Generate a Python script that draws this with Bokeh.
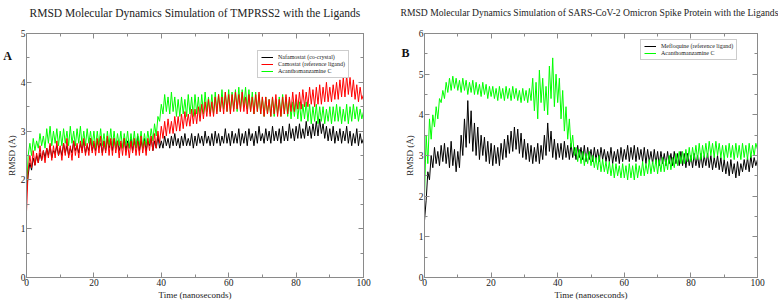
from bokeh.plotting import figure
from bokeh.layouts import row
from bokeh.models import (LinearAxis, Range1d, Legend, LegendItem, Label,
                          SingleIntervalTicker)
from bokeh.embed import file_html
from bokeh.resources import INLINE

# ---------------- data (0.5 ns steps) ----------------
a_nafamostat = [
    1.75, 2.1, 2.35, 2.2, 2.45, 2.3, 2.5, 2.35, 2.55, 2.4, 2.6,
    2.45, 2.65, 2.5, 2.7, 2.45, 2.6, 2.55, 2.7, 2.5, 2.65,
    2.5, 2.75, 2.55, 2.7, 2.5, 2.65, 2.55, 2.8, 2.6, 2.7,
    2.55, 2.75, 2.6, 2.8, 2.55, 2.7, 2.6, 2.85, 2.6, 2.75,
    2.6, 2.8, 2.65, 2.75, 2.55, 2.8, 2.6, 2.85, 2.65, 2.8,
    2.6, 2.85, 2.65, 2.8, 2.6, 2.75, 2.65, 2.85, 2.6, 2.8,
    2.65, 2.85, 2.6, 2.8, 2.65, 2.9, 2.6, 2.8, 2.65, 2.85,
    2.6, 2.8, 2.7, 2.85, 2.6, 2.8, 2.65, 2.9, 2.65, 2.8,
    2.65, 2.9, 2.7, 2.85, 2.65, 2.9, 2.7, 2.95, 2.7, 2.85,
    2.65, 2.9, 2.7, 2.95, 2.7, 2.85, 2.7, 2.95, 2.65, 2.9,
    2.7, 2.95, 2.75, 2.9, 2.7, 3.0, 2.75, 2.9, 2.7, 2.95,
    2.7, 3.0, 2.75, 2.95, 2.7, 2.9, 2.75, 3.05, 2.75, 2.95,
    2.7, 3.0, 2.75, 2.95, 2.75, 3.05, 2.7, 2.95, 2.75, 3.0,
    2.7, 3.05, 2.8, 2.95, 2.7, 3.0, 2.75, 3.1, 2.8, 2.95,
    2.75, 3.05, 2.8, 3.0, 2.75, 3.1, 2.8, 3.0, 2.8, 3.05,
    2.75, 3.1, 2.8, 3.0, 2.8, 3.15, 2.85, 3.05, 2.8, 3.1,
    2.85, 3.15, 2.85, 3.05, 2.85, 3.2, 2.9, 3.1, 2.85, 3.15,
    2.9, 3.2, 2.9, 3.25, 2.95, 3.15, 2.85, 3.1, 2.8, 3.05,
    2.8, 3.1, 2.75, 3.0, 2.8, 3.05, 2.75, 3.0, 2.8, 3.1,
    2.75, 3.0, 2.7, 2.95, 2.75, 3.05, 2.7, 2.95, 2.75, 2.85]

a_camostat = [
    1.35, 2.2, 2.5, 2.25, 2.6, 2.3, 2.55, 2.35, 2.7, 2.4, 2.6,
    2.35, 2.65, 2.45, 2.75, 2.4, 2.7, 2.45, 2.8, 2.5, 2.7,
    2.4, 2.75, 2.5, 2.85, 2.45, 2.7, 2.4, 2.8, 2.5, 2.75,
    2.45, 2.8, 2.55, 2.85, 2.5, 2.75, 2.5, 2.85, 2.55, 2.8,
    2.5, 2.85, 2.55, 2.9, 2.5, 2.8, 2.55, 2.9, 2.5, 2.85,
    2.5, 2.85, 2.55, 2.8, 2.45, 2.8, 2.5, 2.85, 2.5, 2.75,
    2.45, 2.8, 2.55, 2.85, 2.5, 2.8, 2.5, 2.9, 2.55, 2.8,
    2.5, 2.85, 2.6, 2.9, 2.6, 2.95, 2.65, 3.0, 2.75, 3.1,
    2.85, 3.2, 2.9, 3.25, 2.95, 3.2, 2.95, 3.3, 3.0, 3.3,
    3.0, 3.35, 3.05, 3.4, 3.1, 3.35, 3.1, 3.45, 3.15, 3.45,
    3.15, 3.5, 3.2, 3.55, 3.25, 3.6, 3.3, 3.65, 3.3, 3.6,
    3.3, 3.7, 3.35, 3.75, 3.4, 3.7, 3.35, 3.8, 3.4, 3.75,
    3.35, 3.75, 3.4, 3.8, 3.45, 3.75, 3.4, 3.8, 3.4, 3.7,
    3.35, 3.75, 3.4, 3.7, 3.35, 3.75, 3.4, 3.8, 3.35, 3.7,
    3.3, 3.7, 3.35, 3.65, 3.3, 3.7, 3.35, 3.75, 3.3, 3.65,
    3.3, 3.7, 3.35, 3.75, 3.35, 3.7, 3.4, 3.8, 3.4, 3.75,
    3.45, 3.8, 3.45, 3.85, 3.5, 3.8, 3.5, 3.9, 3.55, 3.85,
    3.5, 3.9, 3.55, 3.95, 3.55, 3.9, 3.6, 4.0, 3.6, 3.9,
    3.6, 3.95, 3.65, 4.0, 3.65, 4.05, 3.7, 4.1, 3.7, 4.15,
    3.75, 4.1, 3.7, 4.05, 3.65, 3.95, 3.6, 3.9, 3.65, 3.75]

a_acanthomanzamine = [
    1.7, 2.5, 2.75, 2.5, 2.85, 2.6, 2.8, 2.65, 2.95, 2.7, 2.9,
    2.65, 3.05, 2.75, 3.1, 2.7, 3.0, 2.75, 3.05, 2.7, 3.0,
    2.7, 3.05, 2.75, 3.0, 2.7, 3.1, 2.75, 3.0, 2.7, 3.05,
    2.75, 3.1, 2.7, 3.0, 2.7, 3.05, 2.75, 3.0, 2.7, 3.0,
    2.65, 3.0, 2.7, 3.05, 2.7, 2.95, 2.65, 3.0, 2.7, 3.05,
    2.7, 3.0, 2.65, 2.95, 2.7, 3.0, 2.65, 2.95, 2.7, 3.0,
    2.65, 2.95, 2.7, 3.0, 2.65, 2.95, 2.7, 3.0, 2.65, 2.95,
    2.7, 3.0, 2.75, 3.05, 2.8, 3.15, 2.9, 3.3, 3.2, 3.55,
    3.35, 3.75, 3.4, 3.7, 3.35, 3.8, 3.4, 3.7, 3.3, 3.65,
    3.3, 3.7, 3.35, 3.65, 3.3, 3.75, 3.35, 3.7, 3.3, 3.75,
    3.35, 3.7, 3.3, 3.75, 3.35, 3.8, 3.4, 3.7, 3.35, 3.75,
    3.35, 3.8, 3.4, 3.75, 3.4, 3.85, 3.45, 3.8, 3.4, 3.85,
    3.4, 3.8, 3.45, 3.85, 3.4, 3.9, 3.45, 3.85, 3.5, 3.9,
    3.45, 3.85, 3.4, 3.8, 3.35, 3.8, 3.4, 3.75, 3.35, 3.7,
    3.3, 3.7, 3.35, 3.65, 3.3, 3.7, 3.3, 3.65, 3.35, 3.7,
    3.3, 3.75, 3.35, 3.7, 3.3, 3.65, 3.25, 3.6, 3.3, 3.65,
    3.25, 3.6, 3.2, 3.55, 3.25, 3.6, 3.2, 3.55, 3.15, 3.5,
    3.2, 3.55, 3.15, 3.5, 3.2, 3.5, 3.15, 3.45, 3.2, 3.5,
    3.15, 3.5, 3.2, 3.55, 3.2, 3.5, 3.15, 3.45, 3.2, 3.55,
    3.15, 3.5, 3.2, 3.55, 3.25, 3.5, 3.2, 3.45, 3.25, 3.4]

b_mefloquine = [
    1.4, 1.9, 2.6, 2.4, 3.0, 2.7, 3.2, 2.8, 3.1, 2.75, 3.25,
    2.85, 3.3, 2.8, 3.2, 2.7, 3.35, 2.75, 3.15, 2.6, 3.1,
    2.7, 3.5, 3.0, 3.9, 3.2, 4.35, 3.3, 4.1, 3.1, 3.8,
    3.0, 3.7, 2.9, 3.5, 3.0, 3.45, 2.85, 3.35, 2.8, 3.3,
    2.75, 3.25, 2.8, 3.2, 2.75, 3.3, 2.9, 3.4, 2.95, 3.5,
    3.05, 3.6, 3.1, 3.7, 3.15, 3.65, 3.05, 3.55, 2.95, 3.4,
    2.9, 3.3, 2.85, 3.25, 2.8, 3.2, 2.85, 3.3, 2.8, 3.25,
    2.9, 3.5, 3.0, 3.8, 3.1, 3.6, 2.95, 3.4, 2.9, 3.3,
    2.95, 3.3, 2.9, 3.35, 2.95, 3.25, 2.9, 3.3, 2.95, 3.2,
    2.9, 3.25, 2.95, 3.2, 2.9, 3.25, 2.85, 3.2, 2.9, 3.15,
    2.85, 3.2, 2.9, 3.15, 2.85, 3.2, 2.9, 3.15, 2.85, 3.1,
    2.85, 3.2, 2.8, 3.1, 2.85, 3.15, 2.8, 3.2, 2.85, 3.15,
    2.9, 3.25, 2.85, 3.2, 2.9, 3.25, 2.85, 3.2, 2.9, 3.15,
    2.85, 3.2, 2.8, 3.15, 2.85, 3.1, 2.8, 3.15, 2.8, 3.1,
    2.75, 3.1, 2.8, 3.05, 2.75, 3.1, 2.8, 3.05, 2.75, 3.1,
    2.8, 3.05, 2.75, 3.1, 2.75, 3.05, 2.7, 3.05, 2.75, 3.0,
    2.7, 3.05, 2.75, 3.0, 2.7, 3.05, 2.7, 3.0, 2.75, 3.05,
    2.7, 3.0, 2.65, 2.95, 2.7, 3.0, 2.65, 2.95, 2.6, 2.9,
    2.55, 2.85, 2.5, 2.9, 2.55, 2.8, 2.45, 2.85, 2.5, 2.8,
    2.6, 2.9, 2.65, 2.95, 2.6, 3.0, 2.7, 2.95, 2.75, 2.9]

b_acanthomanzamine = [
    2.0, 3.5, 2.8, 3.9, 3.4, 4.0, 3.7, 4.2, 3.9, 4.4, 4.3,
    4.6, 4.4, 4.8, 4.55, 4.9, 4.6, 4.95, 4.65, 4.9, 4.6,
    4.85, 4.55, 4.9, 4.6, 4.85, 4.5, 4.8, 4.55, 4.85, 4.5,
    4.8, 4.5, 4.75, 4.45, 4.8, 4.5, 4.75, 4.4, 4.7, 4.45,
    4.7, 4.4, 4.65, 4.35, 4.7, 4.4, 4.65, 4.35, 4.7, 4.4,
    4.65, 4.35, 4.7, 4.4, 4.65, 4.35, 4.6, 4.3, 4.65, 4.35,
    4.6, 4.3, 4.65, 4.35, 4.9, 4.1, 4.8, 3.9, 5.1, 4.3,
    4.9, 4.1, 4.7, 4.0, 5.2, 4.4, 5.4, 4.2, 5.0, 4.3,
    4.9, 3.9, 4.6, 3.6, 4.2, 3.4, 3.9, 3.2, 3.5, 3.0,
    3.2, 2.85, 3.15, 2.8, 3.1, 2.75, 3.05, 2.8, 3.1, 2.75,
    3.0, 2.7, 2.95, 2.65, 3.0, 2.6, 2.9, 2.6, 2.85, 2.55,
    2.85, 2.5, 2.8, 2.45, 2.8, 2.5, 2.75, 2.45, 2.8, 2.45,
    2.75, 2.4, 2.8, 2.45, 2.75, 2.4, 2.8, 2.45, 2.75, 2.5,
    2.85, 2.5, 2.8, 2.55, 2.9, 2.55, 2.85, 2.6, 2.9, 2.55,
    2.9, 2.6, 2.95, 2.6, 2.9, 2.65, 3.0, 2.65, 2.95, 2.7,
    3.05, 2.75, 3.1, 2.8, 3.1, 2.8, 3.15, 2.85, 3.2, 2.85,
    3.2, 2.9, 3.25, 2.9, 3.3, 2.9, 3.25, 2.95, 3.3, 2.95,
    3.35, 3.0, 3.3, 2.95, 3.35, 3.0, 3.3, 2.95, 3.25, 2.9,
    3.25, 2.95, 3.3, 2.95, 3.25, 2.9, 3.3, 2.95, 3.25, 2.9,
    3.3, 2.95, 3.25, 2.9, 3.3, 2.95, 3.25, 3.0, 3.3, 3.15]

TIME_STEP_NS = 0.5
title_a = "RMSD Molecular Dynamics Simulation of TMPRSS2 with the Ligands"
title_b = "RMSD Molecular Dynamics Simulation of SARS-CoV-2 Omicron Spike Protein with the Ligands"
x_label = "Time (nanoseconds)"
y_label = "RMSD (Å)"

FONT = "Times New Roman"
FRAME = "#8a8a8a"
TXT = "#222222"


def times(series):
    return [i * TIME_STEP_NS for i in range(len(series))]


def make_fig(ymax, width, bl, br):
    p = figure(width=width, height=302, x_range=Range1d(0, 100), y_range=Range1d(0, ymax),
               output_backend="svg", toolbar_location=None,
               min_border_left=bl, min_border_right=br, min_border_top=33, min_border_bottom=2)
    p.grid.visible = False
    p.outline_line_color = FRAME
    p.background_fill_color = "white"
    p.xaxis.axis_label = x_label
    p.yaxis.axis_label = y_label
    p.xaxis.ticker = SingleIntervalTicker(interval=20, num_minor_ticks=2)
    p.yaxis.ticker = SingleIntervalTicker(interval=1, num_minor_ticks=2)
    top = LinearAxis(ticker=SingleIntervalTicker(interval=20, num_minor_ticks=2))
    right = LinearAxis(ticker=SingleIntervalTicker(interval=1, num_minor_ticks=2))
    p.add_layout(top, "above")
    p.add_layout(right, "right")
    for ax in p.axis:
        ax.axis_line_color = FRAME
        ax.major_tick_line_color = FRAME
        ax.minor_tick_line_color = FRAME
        ax.major_tick_in = 5
        ax.major_tick_out = 0
        ax.minor_tick_in = 3
        ax.minor_tick_out = 0
        ax.major_label_text_font = FONT
        ax.major_label_text_font_size = "9.5px"
        ax.major_label_text_color = TXT
        ax.major_label_standoff = 1
        ax.axis_label_text_font = FONT
        ax.axis_label_text_font_size = "9px"
        ax.axis_label_text_font_style = "normal"
        ax.axis_label_text_color = TXT
        ax.axis_label_standoff = 1
    for ax in (top, right):
        ax.major_label_text_font_size = "0px"
        ax.major_label_standoff = 0
    return p


def add_title(p, text, cx, size):
    p.add_layout(Label(x=cx, y=12, x_units="canvas", y_units="canvas", text=text,
                       text_font=FONT, text_font_size=size, text_color=TXT,
                       text_align="center", text_baseline="middle"), "above")


def add_panel_letter(p, text, x, y):
    p.add_layout(Label(x=x, y=y, x_units="canvas", y_units="canvas", text=text,
                       text_font=FONT, text_font_size="12px", text_color="#111111",
                       text_font_style="bold", text_align="center", text_baseline="middle"), "right")


def style_legend(leg):
    leg.label_text_font = FONT
    leg.label_text_font_size = "6px"
    leg.label_text_color = TXT
    leg.label_height = 6
    leg.glyph_height = 6
    leg.glyph_width = 12
    leg.label_standoff = 5
    leg.spacing = 1
    leg.padding = 3
    leg.margin = 0
    leg.border_line_color = "#9a9a9a"
    leg.border_line_width = 1
    leg.background_fill_alpha = 1


# ---------------- panel A ----------------
pa = make_fig(5, 396, 26, 33)
r_naf = pa.line(times(a_nafamostat), a_nafamostat, line_color="black", line_width=1)
r_aca = pa.line(times(a_acanthomanzamine), a_acanthomanzamine, line_color="#00ff00", line_width=1)
r_cam = pa.line(times(a_camostat), a_camostat, line_color="#ff0000", line_width=1)
leg_a = Legend(items=[LegendItem(label="Nafamostat (co-crystal)", renderers=[r_naf]),
                      LegendItem(label="Camostat (reference ligand)", renderers=[r_cam]),
                      LegendItem(label="Acanthomanzamine C", renderers=[r_aca])],
               location=(231, 199))
style_legend(leg_a)
pa.add_layout(leg_a)
add_title(pa, title_a, 194.5, "11.5px")
add_panel_letter(pa, "A", 7, 55)

# ---------------- panel B ----------------
pb = make_fig(6, 382, 28, 21)
r_mef = pb.line(times(b_mefloquine), b_mefloquine, line_color="black", line_width=1)
r_acb = pb.line(times(b_acanthomanzamine), b_acanthomanzamine, line_color="#00ff00", line_width=1)
leg_b = Legend(items=[LegendItem(label="Mefloquine (reference ligand)", renderers=[r_mef]),
                      LegendItem(label="Acanthomanzamine C", renderers=[r_acb])],
               location=(216, 217))
style_legend(leg_b)
pb.add_layout(leg_b)
add_title(pb, title_b, 193, "9.6px")
add_panel_letter(pb, "B", 9, 52)

layout = row(pa, pb)
open("out.html", "w").write(file_html(layout, INLINE))
